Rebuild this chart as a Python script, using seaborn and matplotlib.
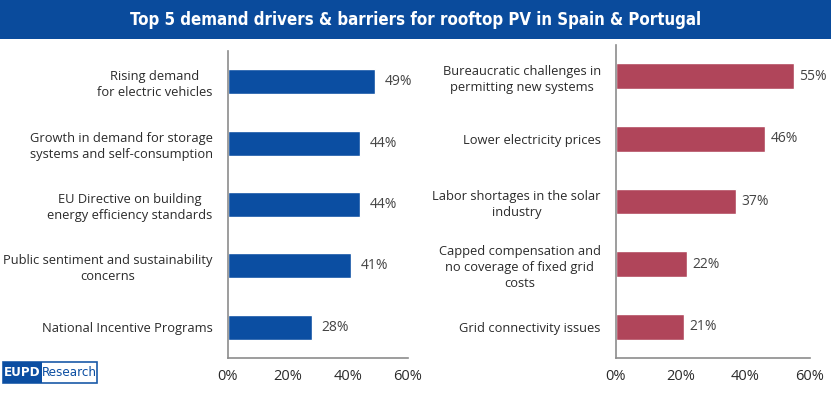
import matplotlib
matplotlib.use("Agg")
import matplotlib.pyplot as plt
import seaborn as sns
import pandas as pd
from matplotlib.patches import Rectangle
from matplotlib.ticker import PercentFormatter

# drivers (left) and barriers (right), top to bottom
drivers = ["Rising demand\nfor electric vehicles",
           "Growth in demand for storage\nsystems and self-consumption",
           "EU Directive on building\nenergy efficiency standards",
           "Public sentiment and sustainability\nconcerns",
           "National Incentive Programs"]
driver_share = [49, 44, 44, 41, 28]

barriers = ["Bureaucratic challenges in\npermitting new systems",
            "Lower electricity prices",
            "Labor shortages in the solar\nindustry",
            "Capped compensation and\nno coverage of fixed grid\ncosts",
            "Grid connectivity issues"]
barrier_share = [55, 46, 37, 22, 21]

x_ticks = [0, 20, 40, 60]

title = "Top 5 demand drivers & barriers for rooftop PV in Spain & Portugal"

sns.set_style("white")
plt.rcParams["font.family"] = ["Open Sans", "DejaVu Sans"]

blue = "#0b4ea2"
red = "#b0455a"
axis_grey = "#8c8c8c"
text_col = "#2a2a2a"

fig = plt.figure(figsize=(8.31, 3.93), dpi=100)

W, H = 831.0, 393.0
def box(x0, y_top, x1, y_bot):
    return [x0 / W, 1 - y_bot / H, (x1 - x0) / W, (y_bot - y_top) / H]

ax1 = fig.add_axes(box(228, 51, 408, 358))
ax2 = fig.add_axes(box(616, 45, 810, 358))

def panel(ax, labels, vals, colour, lab_pad):
    df = pd.DataFrame({"label": labels, "share": vals})
    sns.barplot(data=df, x="share", y="label", color=colour, width=0.41,
                saturation=1, ax=ax)
    ax.set_xlim(0, 60)
    ax.set_ylim(4.5, -0.5)
    ax.set_xticks(x_ticks)
    ax.xaxis.set_major_formatter(PercentFormatter(decimals=0))
    ax.set_xlabel("")
    ax.set_ylabel("")
    for side in ["top", "right"]:
        ax.spines[side].set_visible(False)
    for side in ["left", "bottom"]:
        ax.spines[side].set_color(axis_grey)
        ax.spines[side].set_linewidth(1.2)
    ax.tick_params(axis="x", length=4, width=1.2, color=axis_grey,
                   labelsize=10.5, labelcolor=text_col, pad=4)
    ax.tick_params(axis="y", length=0, labelsize=9.3, labelcolor=text_col, pad=11)
    for t in ax.get_yticklabels():
        t.set_linespacing(1.3)
        t.set_multialignment("center")
    for c in ax.containers:
        ax.bar_label(c, fmt="%d%%", padding=lab_pad, fontsize=10, color="#444444")

panel(ax1, drivers, driver_share, blue, 7)
panel(ax2, barriers, barrier_share, red, 4)

# title banner
fig.patches.append(Rectangle((0, 1 - 39 / H), 1, 39 / H, transform=fig.transFigure,
                             facecolor="#0a4b9c", edgecolor="none", zorder=0))
fig.text(0.5, 1 - 20 / H, title, ha="center", va="center", color="white",
         fontsize=12.1, fontweight="bold", fontstretch="condensed",
         family=["DejaVu Sans"])

# logo
fig.patches.append(Rectangle((3 / W, 1 - 383 / H), 94 / W, 21 / H, transform=fig.transFigure,
                             facecolor="white", edgecolor="#1a5aa8", linewidth=1.2))
fig.patches.append(Rectangle((3 / W, 1 - 383 / H), 39 / W, 21 / H, transform=fig.transFigure,
                             facecolor="#0b4ea2", edgecolor="none"))
fig.text(22.5 / W, 1 - 372.5 / H, "EUPD", ha="center", va="center", color="white",
         fontsize=9.5, fontweight="bold", fontstretch="condensed", family=["DejaVu Sans"])
fig.text(69.5 / W, 1 - 372.5 / H, "Research", ha="center", va="center", color="#0b4ea2",
         fontsize=9.5, fontstretch="condensed", family=["DejaVu Sans"])

fig.savefig("out.png", dpi=100)
